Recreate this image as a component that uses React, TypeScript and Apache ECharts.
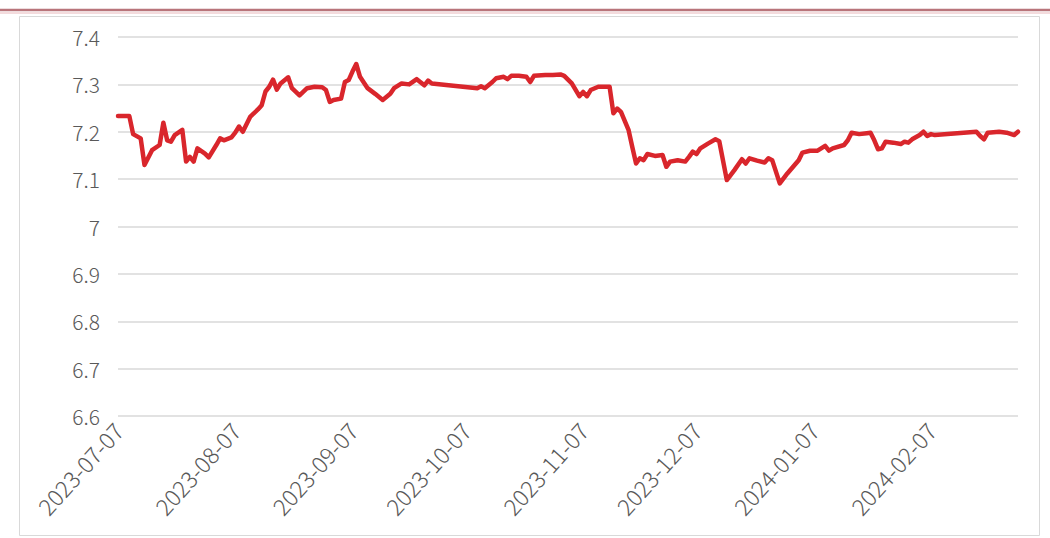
import React, { useEffect, useRef } from "react";
import * as echarts from "echarts";

const startDate = "2023-07-07";
const endDate = "2024-03-01";

const tradeDates: string[] = [
  "2023-07-07","2023-07-10","2023-07-11","2023-07-13","2023-07-14","2023-07-16","2023-07-18","2023-07-19","2023-07-20","2023-07-21",
  "2023-07-22","2023-07-24","2023-07-25","2023-07-26","2023-07-27","2023-07-28","2023-07-30","2023-07-31","2023-08-02","2023-08-03",
  "2023-08-04","2023-08-06","2023-08-07","2023-08-08","2023-08-09","2023-08-11","2023-08-13","2023-08-14","2023-08-15","2023-08-16",
  "2023-08-17","2023-08-18","2023-08-19","2023-08-21","2023-08-22","2023-08-24","2023-08-26","2023-08-28","2023-08-30","2023-08-31",
  "2023-09-01","2023-09-02","2023-09-04","2023-09-05","2023-09-06","2023-09-07","2023-09-08","2023-09-09","2023-09-11","2023-09-13",
  "2023-09-15","2023-09-17","2023-09-18","2023-09-20","2023-09-22","2023-09-24","2023-09-26","2023-09-27","2023-09-28","2023-10-10",
  "2023-10-11","2023-10-12","2023-10-14","2023-10-15","2023-10-17","2023-10-18","2023-10-19","2023-10-21","2023-10-23","2023-10-24",
  "2023-10-25","2023-10-28","2023-10-30","2023-11-01","2023-11-02","2023-11-04","2023-11-06","2023-11-07","2023-11-08","2023-11-09",
  "2023-11-11","2023-11-14","2023-11-15","2023-11-16","2023-11-17","2023-11-19","2023-11-20","2023-11-21","2023-11-22","2023-11-23",
  "2023-11-24","2023-11-26","2023-11-28","2023-11-29","2023-11-30","2023-12-02","2023-12-04","2023-12-05","2023-12-06","2023-12-07",
  "2023-12-08","2023-12-10","2023-12-12","2023-12-13","2023-12-15","2023-12-17","2023-12-19","2023-12-20","2023-12-21","2023-12-23",
  "2023-12-25","2023-12-26","2023-12-27","2023-12-29","2023-12-31","2024-01-03","2024-01-04","2024-01-06","2024-01-08","2024-01-10",
  "2024-01-11","2024-01-12","2024-01-15","2024-01-16","2024-01-17","2024-01-19","2024-01-21","2024-01-22","2024-01-23","2024-01-24",
  "2024-01-25","2024-01-26","2024-01-28","2024-01-30","2024-01-31","2024-02-01","2024-02-02","2024-02-04","2024-02-05","2024-02-06",
  "2024-02-07","2024-02-08","2024-02-19","2024-02-20","2024-02-21","2024-02-22","2024-02-25","2024-02-27","2024-02-29","2024-03-01"
];

const rates: number[] = [
  7.233,7.233,7.195,7.186,7.130,7.161,7.172,7.219,7.182,7.179,
  7.193,7.204,7.137,7.147,7.137,7.165,7.154,7.146,7.172,7.186,
  7.182,7.188,7.198,7.211,7.200,7.232,7.247,7.256,7.285,7.295,
  7.310,7.289,7.302,7.315,7.292,7.277,7.292,7.295,7.294,7.288,
  7.263,7.267,7.270,7.305,7.309,7.327,7.343,7.316,7.292,7.280,
  7.267,7.280,7.292,7.302,7.300,7.311,7.298,7.308,7.302,7.292,
  7.296,7.292,7.305,7.313,7.316,7.311,7.318,7.318,7.316,7.305,
  7.318,7.320,7.320,7.321,7.318,7.302,7.275,7.284,7.275,7.288,
  7.295,7.295,7.239,7.249,7.242,7.204,7.168,7.133,7.144,7.140,
  7.153,7.149,7.151,7.126,7.137,7.140,7.137,7.147,7.158,7.153,
  7.165,7.175,7.184,7.180,7.098,7.119,7.142,7.133,7.144,7.139,
  7.135,7.144,7.140,7.091,7.112,7.140,7.156,7.160,7.160,7.170,
  7.160,7.165,7.172,7.182,7.198,7.195,7.197,7.198,7.182,7.163,
  7.165,7.179,7.177,7.174,7.179,7.177,7.184,7.193,7.200,7.191,
  7.195,7.193,7.200,7.191,7.184,7.198,7.200,7.198,7.193,7.200
];

const yMin = 6.6;
const yMax = 7.4;
const yStep = 0.1;

function buildDays(from: string, to: string): string[] {
  const out: string[] = [];
  const d = new Date(from + "T00:00:00Z");
  const end = new Date(to + "T00:00:00Z").getTime();
  while (d.getTime() <= end) {
    out.push(d.toISOString().slice(0, 10));
    d.setUTCDate(d.getUTCDate() + 1);
  }
  return out;
}

export default function App() {
  const ref = useRef<HTMLDivElement>(null);
  useEffect(() => {
    if (!ref.current) return;
    const chart = echarts.init(ref.current, undefined, { renderer: "svg" });
    const days = buildDays(startDate, endDate);
    const lookup: Record<string, number> = {};
    tradeDates.forEach((d, i) => (lookup[d] = rates[i]));
    const seriesData = days.map((d) => (d in lookup ? lookup[d] : null));
    const font = "'Noto Sans CJK SC', 'Noto Sans', sans-serif";
    chart.setOption({
      animation: false,
      backgroundColor: "#ffffff",
      graphic: [
        {
          type: "line",
          silent: true,
          shape: { x1: 0, y1: 10, x2: 1050, y2: 10 },
          style: { stroke: "#b9757b", lineWidth: 2.5 },
        },
        {
          type: "line",
          silent: true,
          shape: { x1: 0, y1: 13, x2: 1050, y2: 13 },
          style: { stroke: "#e8b8bb", lineWidth: 1 },
        },
        {
          type: "rect",
          silent: true,
          z: -1,
          shape: { x: 19.5, y: 16.5, width: 1020, height: 519 },
          style: { fill: "none", stroke: "#d9d9d9", lineWidth: 1 },
        },
      ],
      grid: { left: 118, right: 32, top: 37, bottom: 122, containLabel: false },
      xAxis: {
        type: "category",
        data: days,
        boundaryGap: false,
        axisLine: { show: false },
        axisTick: { show: false },
        splitLine: { show: false },
        axisLabel: {
          interval: (_i: number, v: string) => v.slice(8) === "07",
          rotate: 48,
          margin: 10,
          color: "#595959",
          fontSize: 23,
          fontWeight: 300,
          fontFamily: font,
        },
      },
      yAxis: {
        type: "value",
        min: yMin,
        max: yMax,
        interval: yStep,
        axisLine: { show: false },
        axisTick: { show: false },
        splitLine: { lineStyle: { color: "#d9d9d9", width: 1.5 } },
        axisLabel: {
          margin: 18,
          color: "#595959",
          fontSize: 21,
          fontWeight: 300,
          fontFamily: font,
          formatter: (v: number) => String(parseFloat(v.toFixed(1))),
        },
      },
      series: [
        {
          type: "line",
          data: seriesData,
          connectNulls: true,
          showSymbol: false,
          symbol: "none",
          lineStyle: { color: "#d9262c", width: 4.5, join: "round", cap: "round" },
        },
      ],
    });
    return () => chart.dispose();
  }, []);
  return (
    <div
      ref={ref}
      style={{ position: "fixed", left: 0, top: 0, width: 1050, height: 538, background: "#fff" }}
    />
  );
}
